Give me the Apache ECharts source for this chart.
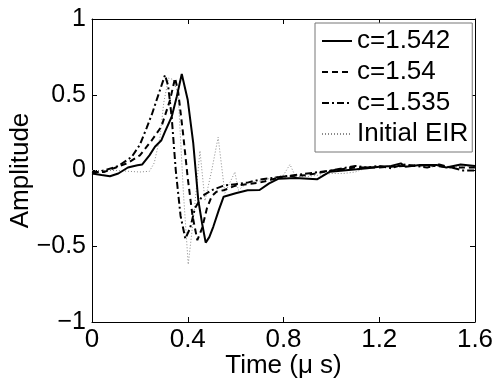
<!DOCTYPE html>
<html>
<head>
<meta charset="utf-8">
<script src="https://cdn.jsdelivr.net/npm/echarts@6/dist/echarts.min.js"></script>
<style>
html, body { margin: 0; padding: 0; background: #fff; }
#chart { width: 498px; height: 384px; }
</style>
</head>
<body>
<div id="chart"></div>
<script>
// tick labels
var xTickLabels = ['0', '0.4', '0.8', '1.2', '1.6'];
var yTickLabels = ['\u22121', '\u22120.5', '0', '0.5', '1'];

// c=1.542 (solid)
var tSolid = [0, 0.04, 0.075, 0.11, 0.15, 0.19, 0.21, 0.24, 0.263, 0.29, 0.305, 0.333, 0.354, 0.375, 0.40, 0.423, 0.444, 0.46, 0.475, 0.49, 0.507, 0.53, 0.55, 0.6, 0.65, 0.7, 0.74, 0.78, 0.85, 0.94, 0.994, 1.05, 1.105, 1.15, 1.2, 1.25, 1.29, 1.31, 1.37, 1.44, 1.48, 1.51, 1.54, 1.6];
var vSolid = [-0.02, -0.03, -0.038, -0.02, 0.02, 0.035, 0.04, 0.1, 0.157, 0.2, 0.256, 0.355, 0.487, 0.637, 0.465, 0.18, -0.195, -0.35, -0.476, -0.44, -0.37, -0.26, -0.173, -0.15, -0.13, -0.129, -0.085, -0.054, -0.05, -0.058, -0.008, 0.0, 0.008, 0.015, 0.025, 0.03, 0.047, 0.025, 0.036, 0.036, 0.02, 0.03, 0.04, 0.03];

// c=1.54 (dashed)
var tDash = [0, 0.05, 0.1, 0.15, 0.2, 0.25, 0.29, 0.326, 0.347, 0.36, 0.38, 0.40, 0.42, 0.44, 0.46, 0.48, 0.50, 0.52, 0.55, 0.6, 0.65, 0.7, 0.75, 0.8, 0.9, 1.0, 1.1, 1.2, 1.3, 1.4, 1.5, 1.6];
var vDash = [-0.01, -0.01, 0.02, 0.05, 0.1, 0.2, 0.29, 0.465, 0.61, 0.52, 0.25, -0.05, -0.3, -0.46, -0.38, -0.25, -0.17, -0.14, -0.13, -0.1, -0.09, -0.08, -0.06, -0.04, -0.03, 0.0, 0.02, 0.02, 0.03, 0.035, 0.02, 0.02];

// c=1.535 (dash-dot)
var tDashDot = [0, 0.05, 0.11, 0.166, 0.2, 0.228, 0.25, 0.27, 0.305, 0.318, 0.333, 0.35, 0.37, 0.39, 0.41, 0.43, 0.46, 0.5, 0.55, 0.6, 0.65, 0.7, 0.8, 0.9, 1.0, 1.1, 1.15, 1.2, 1.25, 1.3, 1.35, 1.4, 1.45, 1.5, 1.55, 1.6];
var vDashDot = [-0.02, 0.0, 0.03, 0.09, 0.17, 0.28, 0.37, 0.465, 0.63, 0.56, 0.35, 0.0, -0.3, -0.45, -0.38, -0.25, -0.17, -0.13, -0.1, -0.09, -0.08, -0.06, -0.04, -0.02, 0.0, 0.03, 0.02, 0.03, 0.015, 0.04, 0.03, 0.02, 0.04, 0.02, 0.0, 0.0];

// Initial EIR (dotted)
var tEir = [0, 0.1, 0.2, 0.24, 0.26, 0.284, 0.3, 0.32, 0.34, 0.36, 0.382, 0.402, 0.425, 0.451, 0.472, 0.5, 0.527, 0.555, 0.597, 0.611, 0.65, 0.7, 0.75, 0.8, 0.827, 0.85, 0.9, 0.95, 1.0, 1.05, 1.1, 1.15, 1.2, 1.25, 1.3, 1.35, 1.4, 1.45, 1.5, 1.55, 1.6];
var vEir = [0, 0.0, -0.01, -0.005, 0.05, 0.22, 0.45, 0.61, 0.6, 0.5, -0.15, -0.62, -0.3, 0.13, -0.2, 0.0, 0.22, -0.15, -0.01, -0.13, -0.08, -0.07, -0.05, -0.03, 0.04, -0.04, -0.04, -0.03, -0.02, -0.02, -0.01, 0.02, 0.03, 0.02, 0.03, 0.04, 0.02, 0.03, 0.02, 0.03, 0.02];

var FONT = '"Liberation Sans", Arial, Helvetica, sans-serif';

var EirChart = {
	init : function() {
		var chart = echarts.init(document.getElementById('chart'));
		chart.setOption(EirChart.buildOption(), true);
	},

	pairs : function(ts, vs) {
		var out = [];
		for (var i = 0; i < ts.length; i++) {
			out.push([ts[i], vs[i]]);
		}
		return out;
	},

	line : function(name, ts, vs, color, width, type) {
		return {
			name : name,
			type : 'line',
			xAxisIndex : 0,
			yAxisIndex : 0,
			symbol : 'none',
			showSymbol : false,
			lineStyle : { color : color, width : width, type : type },
			itemStyle : { color : color },
			data : EirChart.pairs(ts, vs)
		};
	},

	buildOption : function() {
		var tick = { show : true, inside : true, length : 5, lineStyle : { color : '#000' } };
		var axisLine = { show : true, onZero : false, lineStyle : { color : '#000', width : 1 } };
		var option = {
			animation : false,
			backgroundColor : '#fff',
			textStyle : { fontFamily : FONT },
			grid : { left : 92, right : 23, top : 19, bottom : 62, containLabel : false, outerBoundsMode : 'none' },
			legend : {
				left : 315,
				top : 23,
				orient : 'vertical',
				backgroundColor : '#fff',
				borderColor : '#777',
				borderWidth : 1,
				borderRadius : 0,
				padding : [5, 4, 5, 6],
				itemWidth : 30,
				itemHeight : 14,
				itemGap : 5,
				itemStyle : { opacity : 0 },
				textStyle : { fontSize : 26, color : '#000', fontFamily : FONT },
				data : ['c=1.542', 'c=1.54', 'c=1.535', 'Initial EIR']
			},
			xAxis : [ {
				type : 'value',
				min : 0,
				max : 1.6,
				interval : 0.4,
				position : 'bottom',
				name : 'Time (\u03bc s)',
				nameLocation : 'middle',
				nameGap : 31,
				nameMoveOverlap : false,
				nameTextStyle : { fontSize : 26, color : '#000', fontFamily : FONT },
				axisLine : axisLine,
				axisTick : tick,
				splitLine : { show : false },
				axisLabel : {
					fontSize : 26,
					color : '#000',
					margin : 5,
					fontFamily : FONT,
					formatter : function(v) {
						return xTickLabels[Math.round(v / 0.4)];
					}
				}
			}, {
				type : 'value',
				min : 0,
				max : 1.6,
				interval : 0.4,
				position : 'top',
				axisLine : axisLine,
				axisTick : tick,
				splitLine : { show : false },
				axisLabel : { show : false }
			} ],
			yAxis : [ {
				type : 'value',
				min : -1,
				max : 1,
				interval : 0.5,
				position : 'left',
				name : 'Amplitude',
				nameLocation : 'middle',
				nameGap : 58,
				nameMoveOverlap : false,
				nameTextStyle : { fontSize : 26, color : '#000', fontFamily : FONT },
				axisLine : axisLine,
				axisTick : tick,
				splitLine : { show : false },
				axisLabel : {
					fontSize : 25,
					color : '#000',
					margin : 6,
					fontFamily : FONT,
					formatter : function(v) {
						return yTickLabels[Math.round((v + 1) / 0.5)];
					}
				}
			}, {
				type : 'value',
				min : -1,
				max : 1,
				interval : 0.5,
				position : 'right',
				axisLine : axisLine,
				axisTick : tick,
				splitLine : { show : false },
				axisLabel : { show : false }
			} ],
			series : [
				EirChart.line('Initial EIR', tEir, vEir, '#8a8a8a', 1, [1, 2]),
				EirChart.line('c=1.535', tDashDot, vDashDot, '#000', 2, [7, 3, 2, 3]),
				EirChart.line('c=1.54', tDash, vDash, '#000', 2, [6, 4]),
				EirChart.line('c=1.542', tSolid, vSolid, '#000', 2, 'solid')
			]
		};
		return option;
	}
};

window.onload = function() {
	EirChart.init();
};
</script>
</body>
</html>
